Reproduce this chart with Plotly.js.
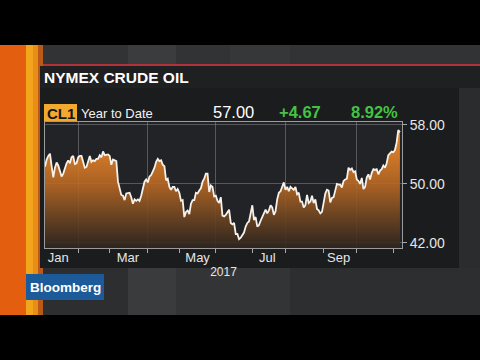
<!DOCTYPE html>
<html>
<head>
<meta charset="utf-8">
<script src="https://cdn.plot.ly/plotly-3.0.1.min.js"></script>
<style>
html,body{margin:0;padding:0;background:#000;}
#chart{width:480px;height:360px;}
</style>
</head>
<body>
<div id="chart"></div>
<script>
// ---- DATA ----
const dates = [
'2017-01-03','2017-01-04','2017-01-05','2017-01-06','2017-01-09','2017-01-10','2017-01-11','2017-01-12','2017-01-13',
'2017-01-17','2017-01-18','2017-01-19','2017-01-20','2017-01-23','2017-01-24','2017-01-25','2017-01-26','2017-01-27',
'2017-01-30','2017-01-31','2017-02-01','2017-02-02','2017-02-03','2017-02-06','2017-02-07','2017-02-08','2017-02-09',
'2017-02-10','2017-02-13','2017-02-14','2017-02-15','2017-02-16','2017-02-17','2017-02-21','2017-02-22','2017-02-23',
'2017-02-24','2017-02-27','2017-02-28','2017-03-01','2017-03-02','2017-03-03','2017-03-06','2017-03-07','2017-03-08',
'2017-03-09','2017-03-10','2017-03-13','2017-03-14','2017-03-15','2017-03-16','2017-03-17','2017-03-20','2017-03-21',
'2017-03-22','2017-03-23','2017-03-24','2017-03-27','2017-03-28','2017-03-29','2017-03-30','2017-03-31','2017-04-03',
'2017-04-04','2017-04-05','2017-04-06','2017-04-07','2017-04-10','2017-04-11','2017-04-12','2017-04-13','2017-04-17',
'2017-04-18','2017-04-19','2017-04-20','2017-04-21','2017-04-24','2017-04-25','2017-04-26','2017-04-27','2017-04-28',
'2017-05-01','2017-05-02','2017-05-03','2017-05-04','2017-05-05','2017-05-08','2017-05-09','2017-05-10','2017-05-11',
'2017-05-12','2017-05-15','2017-05-16','2017-05-17','2017-05-18','2017-05-19','2017-05-22','2017-05-23','2017-05-24',
'2017-05-25','2017-05-26','2017-05-30','2017-05-31','2017-06-01','2017-06-02','2017-06-05','2017-06-06','2017-06-07',
'2017-06-08','2017-06-09','2017-06-12','2017-06-13','2017-06-14','2017-06-15','2017-06-16','2017-06-19','2017-06-20',
'2017-06-21','2017-06-22','2017-06-23','2017-06-26','2017-06-27','2017-06-28','2017-06-29','2017-06-30','2017-07-03',
'2017-07-05','2017-07-06','2017-07-07','2017-07-10','2017-07-11','2017-07-12','2017-07-13','2017-07-14','2017-07-17',
'2017-07-18','2017-07-19','2017-07-20','2017-07-21','2017-07-24','2017-07-25','2017-07-26','2017-07-27','2017-07-28',
'2017-07-31','2017-08-01','2017-08-02','2017-08-03','2017-08-04','2017-08-07','2017-08-08','2017-08-09','2017-08-10',
'2017-08-11','2017-08-14','2017-08-15','2017-08-16','2017-08-17','2017-08-18','2017-08-21','2017-08-22','2017-08-23',
'2017-08-24','2017-08-25','2017-08-28','2017-08-29','2017-08-30','2017-08-31','2017-09-01','2017-09-05','2017-09-06',
'2017-09-07','2017-09-08','2017-09-11','2017-09-12','2017-09-13','2017-09-14','2017-09-15','2017-09-18','2017-09-19',
'2017-09-20','2017-09-21','2017-09-22','2017-09-25','2017-09-26','2017-09-27','2017-09-28','2017-09-29','2017-10-02',
'2017-10-03','2017-10-04','2017-10-05','2017-10-06','2017-10-09','2017-10-10','2017-10-11','2017-10-12','2017-10-13',
'2017-10-16','2017-10-17','2017-10-18','2017-10-19','2017-10-20','2017-10-23','2017-10-24','2017-10-25','2017-10-26',
'2017-10-27','2017-10-30','2017-10-31','2017-11-01','2017-11-02','2017-11-03','2017-11-06','2017-11-07'
];
const prices = [
52.33,53.3,53.8,54.1,52.4,50.9,52.2,52.9,52.5,
51.6,51.0,51.4,52.3,52.8,53.2,52.8,53.6,53.8,
52.7,52.8,53.6,53.8,53.8,53.0,52.2,52.3,53.0,
53.8,53.0,53.2,53.1,53.4,53.4,53.9,53.6,54.4,
53.9,54.0,54.0,53.8,52.6,53.3,53.2,53.1,50.3,
49.3,48.5,48.4,47.8,48.7,48.8,48.8,48.2,47.3,
47.9,47.7,47.9,47.7,48.4,49.5,50.3,50.6,50.2,
51.0,51.2,51.7,52.2,53.0,53.4,53.1,53.2,52.6,
52.4,50.5,50.7,49.6,49.2,49.6,49.6,49.0,49.3,
48.8,47.7,47.8,45.5,46.2,46.4,45.9,47.3,47.8,
47.8,48.8,48.7,49.1,49.4,50.3,50.7,51.4,51.4,
48.9,49.8,49.6,48.3,48.4,47.7,47.4,48.2,45.7,
45.6,45.8,46.1,46.5,44.7,44.5,44.7,43.2,43.2,
42.5,42.7,43.0,43.4,44.2,44.7,44.9,46.0,47.1,
45.1,45.5,44.2,44.4,45.0,45.5,46.1,46.5,46.0,
46.4,47.1,46.8,45.8,46.3,47.9,48.8,49.0,49.7,
50.2,49.2,49.6,49.0,49.6,49.4,49.2,49.6,48.6,
48.8,47.6,47.6,46.8,47.1,48.5,47.4,47.6,48.4,
47.4,47.9,46.6,46.4,46.0,46.2,47.3,48.7,49.2,
49.1,47.5,48.1,48.2,49.3,50.0,49.9,49.9,49.5,
50.4,50.6,50.7,52.2,51.9,52.1,51.6,51.7,50.6,
50.4,50.0,50.8,49.3,49.6,50.9,51.3,50.6,51.5,
52.0,51.9,52.0,51.3,51.8,52.0,52.5,52.2,52.8,
53.9,54.2,54.4,54.3,54.6,55.6,57.3,57.0
];
const monthLabels = ['Jan','Mar','May','Jul','Sep'];
const monthLabelDates = ['2017-01-13','2017-03-16','2017-05-16','2017-07-17','2017-09-15'];
const gridDates = ['2017-02-01','2017-04-03','2017-06-01','2017-08-01','2017-10-02'];
const minorTickDates = ['2017-03-01','2017-05-01','2017-07-03','2017-09-01','2017-11-01'];
const holidays = ['2017-01-02','2017-01-16','2017-02-20','2017-04-14','2017-05-29','2017-07-04','2017-09-04'];
const yTicks = [42, 50, 58];
const headline = {ticker:'CL1', period:'Year to Date', last:'57.00', change:'+4.67', pct:'8.92%'};

// ---- LAYOUT HELPERS (pixel -> paper) ----
const L=45, R=402, T=122, B=248;
const px = x => (x - L) / (R - L);
const py = y => (B - y) / (B - T);
const FONT = '"Liberation Sans", Arial, sans-serif';

function rect(x0,y0,x1,y1,color){
  return {type:'rect', xref:'paper', yref:'paper', layer:'below',
    x0:px(x0), x1:px(x1), y0:py(y1), y1:py(y0), fillcolor:color, line:{width:0}};
}
function label(text,x,y,size,color,opts){
  return Object.assign({xref:'paper', yref:'paper', x:px(x), y:py(y), text:text, showarrow:false,
    xanchor:'left', yanchor:'middle', font:{family:FONT, size:size, color:color}}, opts||{});
}

const rb = [{bounds:['sat','mon']},{values:holidays}];
const xRange = ['2017-01-03','2017-11-08 06:00'];

const trace = {
  x: dates, y: prices, type:'scatter', mode:'lines',
  line:{color:'#f6f1ea', width:1.8},
  fill:'tozeroy',
  fillgradient:{type:'vertical', start:41.3, stop:58.4,
    colorscale:[[0,'rgba(46,37,30,0.9)'],[0.25,'rgba(112,70,33,0.9)'],[0.5,'rgba(184,104,35,0.9)'],[0.75,'rgba(228,130,40,0.9)'],[1,'rgba(252,152,48,0.92)']]},
  hoverinfo:'skip', showlegend:false
};
// carrier for the month-label axis (draws nothing visible)
const labelAxisTrace = {
  x: dates, y: prices, xaxis:'x2', type:'scatter', mode:'lines',
  line:{color:'rgba(0,0,0,0)', width:0}, hoverinfo:'skip', showlegend:false
};

const gridColor = 'rgba(150,152,156,0.45)';
const layout = {
  width:480, height:360,
  margin:{l:L, r:480-R, t:T, b:360-B, pad:0},
  paper_bgcolor:'#2b2c2e', plot_bgcolor:'#212327',
  showlegend:false,
  font:{family:FONT, color:'#e6e6e6'},
  xaxis:{type:'date', range:xRange, rangebreaks:rb,
    tickmode:'array', tickvals:gridDates, showticklabels:false,
    ticks:'outside', ticklen:4, tickcolor:'#a8a8a8',
    showgrid:true, gridcolor:gridColor, gridwidth:1,
    minor:{tickmode:'array', tickvals:minorTickDates, ticks:'outside', ticklen:4, tickcolor:'#a8a8a8', showgrid:false},
    showline:true, mirror:true, linecolor:'#9c9c9c', linewidth:1, zeroline:false, fixedrange:true},
  xaxis2:{type:'date', overlaying:'x', anchor:'y', side:'bottom', range:xRange, rangebreaks:rb,
    tickmode:'array', tickvals:monthLabelDates, ticktext:monthLabels,
    ticks:'', showgrid:false, showline:false, zeroline:false,
    tickfont:{family:FONT, size:13, color:'#e6e6e6'},
    title:{text:'2017', font:{family:FONT, size:12, color:'#e6e6e6'}, standoff:0}},
  yaxis:{side:'right', range:[41.3,58.4], tickmode:'array', tickvals:yTicks, tickformat:'.2f',
    ticks:'outside', ticklen:4, tickcolor:'#a8a8a8',
    tickfont:{family:FONT, size:14, color:'#e6e6e6'},
    showgrid:true, gridcolor:gridColor, gridwidth:1,
    showline:true, mirror:true, linecolor:'#9c9c9c', linewidth:1, zeroline:false, fixedrange:true},
  shapes:[
    rect(43,45,480,64,'#323335'),
    rect(128,45,176,64,'#3b3c3e'),
    rect(230,45,290,64,'#363739'),
    rect(43,268,480,315,'#2d2e30'),
    rect(128,268,176,315,'#3a3b3c'),
    rect(176,268,290,315,'#333436'),
    rect(0,0,480,45,'#000000'),
    rect(0,315,480,360,'#000000'),
    rect(0,45,26,315,'#e35e0f'),
    rect(26,45,33,315,'#f2a51c'),
    rect(33,45,38,315,'#e98d18'),
    rect(38,45,43,315,'#b95a17'),
    rect(43,64,480,66,'#b1323b'),
    rect(40,66,480,88,'#1f2022'),
    rect(40,88,459,268,'#1b1c1e'),
    rect(45,122,402,248,'#212327'),
    rect(44,104,77,121,'#f2a92f'),
    rect(26,274,104,300,'#1d5a9a')
  ],
  annotations:[
    label('<b>NYMEX CRUDE OIL</b>',42,78,15.5,'#ffffff'),
    label('<b>'+headline.ticker+'</b>',60.5,113,15,'#161616',{xanchor:'center'}),
    label(headline.period,79,113,13,'#f2f2f2'),
    label(headline.last,233.5,112,16.5,'#ffffff',{xanchor:'center'}),
    label('<b>'+headline.change+'</b>',300,112,16.5,'#44c244',{xanchor:'center'}),
    label('<b>'+headline.pct+'</b>',374,112,16.5,'#44c244',{xanchor:'center'}),
    label('<b>Bloomberg</b>',65,287,13.5,'#ffffff',{xanchor:'center'})
  ]
};

Plotly.newPlot('chart',[trace,labelAxisTrace],layout,{staticPlot:true, displayModeBar:false});
</script>
</body>
</html>
